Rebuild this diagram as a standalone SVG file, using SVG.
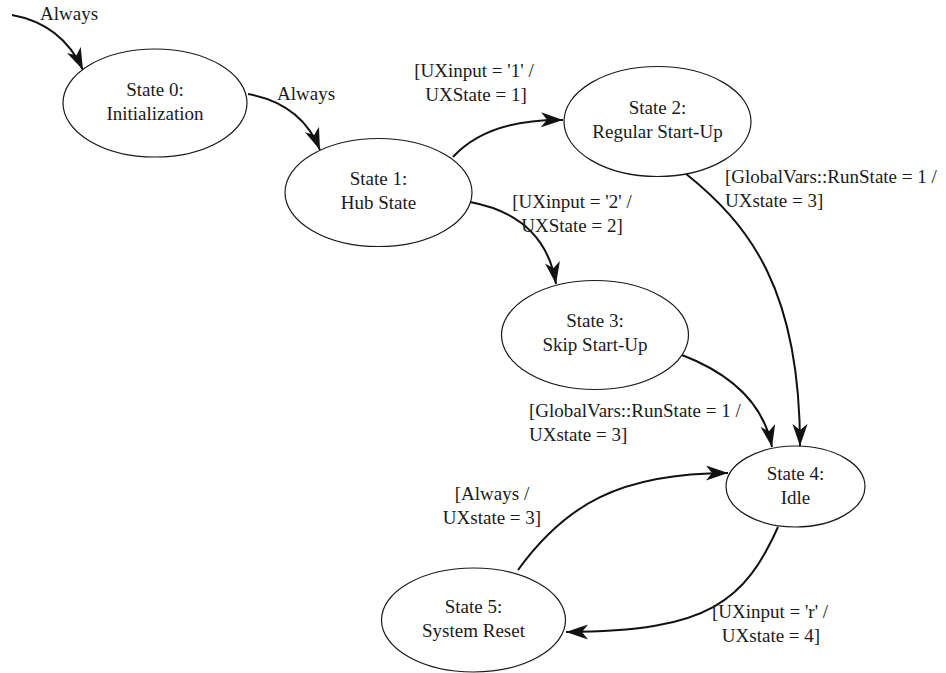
<svg xmlns="http://www.w3.org/2000/svg" width="946" height="673" viewBox="0 0 946 673">
  <style>
    text { font-family: "Liberation Serif", "Times New Roman", serif; font-size: 19px; fill: #1a1a1a; }
    .state { fill: #ffffff; stroke: #1a1a1a; stroke-width: 1.2; }
    .mid { text-anchor: middle; }
    .edge { fill: none; stroke: #111111; stroke-width: 2; marker-end: url(#arrow); }
  </style>
  <defs>
    <marker id="arrow" markerUnits="userSpaceOnUse" markerWidth="24" markerHeight="16" refX="22" refY="7.5" orient="auto">
      <path d="M0,0 L22,7.5 L0,15 L6,7.5 z" fill="#111111"/>
    </marker>
  </defs>

  <g id="connectors">
    <path class="edge" d="M12,15 Q62,24 83,70"/>
    <path class="edge" d="M248,94 Q302,104 320,150"/>
    <path class="edge" d="M453,157 Q488,119 563,120"/>
    <path class="edge" d="M470,202 Q545,216 556,284"/>
    <path class="edge" d="M685,173 C750,225 800,290 800,446"/>
    <path class="edge" d="M682,355 Q760,385 772,447"/>
    <path class="edge" d="M518,570 C565,505 620,473 728,473"/>
    <path class="edge" d="M778,527 C745,600 710,632 566,632"/>
  </g>

  <g id="edge-labels">
    <text x="40" y="20">Always</text>
    <text x="277" y="100">Always</text>
    <text class="mid" x="474" y="77">[UXinput = '1' /</text>
    <text class="mid" x="476" y="101">UXState = 1]</text>
    <text class="mid" x="572" y="208">[UXinput = '2' /</text>
    <text class="mid" x="572" y="232">UXState = 2]</text>
    <text x="725" y="183">[GlobalVars::RunState = 1 /</text>
    <text x="725" y="207">UXstate = 3]</text>
    <text x="529" y="417">[GlobalVars::RunState = 1 /</text>
    <text x="529" y="441">UXstate = 3]</text>
    <text class="mid" x="492" y="500">[Always /</text>
    <text class="mid" x="492" y="524">UXstate = 3]</text>
    <text class="mid" x="770" y="618">[UXinput = 'r' /</text>
    <text class="mid" x="771" y="642">UXstate = 4]</text>
  </g>

  <g id="state0">
    <ellipse class="state" cx="155" cy="103" rx="92" ry="54"/>
    <text class="mid" x="155" y="96">State 0:</text>
    <text class="mid" x="155" y="120">Initialization</text>
  </g>
  <g id="state1">
    <ellipse class="state" cx="378.5" cy="192.5" rx="93.5" ry="54"/>
    <text class="mid" x="378.5" y="185">State 1:</text>
    <text class="mid" x="378.5" y="209">Hub State</text>
  </g>
  <g id="state2">
    <ellipse class="state" cx="657.5" cy="121.5" rx="93.5" ry="55"/>
    <text class="mid" x="657.5" y="114">State 2:</text>
    <text class="mid" x="657.5" y="138">Regular Start-Up</text>
  </g>
  <g id="state3">
    <ellipse class="state" cx="595" cy="335" rx="93.5" ry="54.5"/>
    <text class="mid" x="595" y="327">State 3:</text>
    <text class="mid" x="595" y="351">Skip Start-Up</text>
  </g>
  <g id="state4">
    <ellipse class="state" cx="795.5" cy="486.5" rx="69.5" ry="40.5"/>
    <text class="mid" x="795.5" y="480">State 4:</text>
    <text class="mid" x="795.5" y="504">Idle</text>
  </g>
  <g id="state5">
    <ellipse class="state" cx="473.5" cy="620" rx="92" ry="52"/>
    <text class="mid" x="473.5" y="613">State 5:</text>
    <text class="mid" x="473.5" y="637">System Reset</text>
  </g>
</svg>
